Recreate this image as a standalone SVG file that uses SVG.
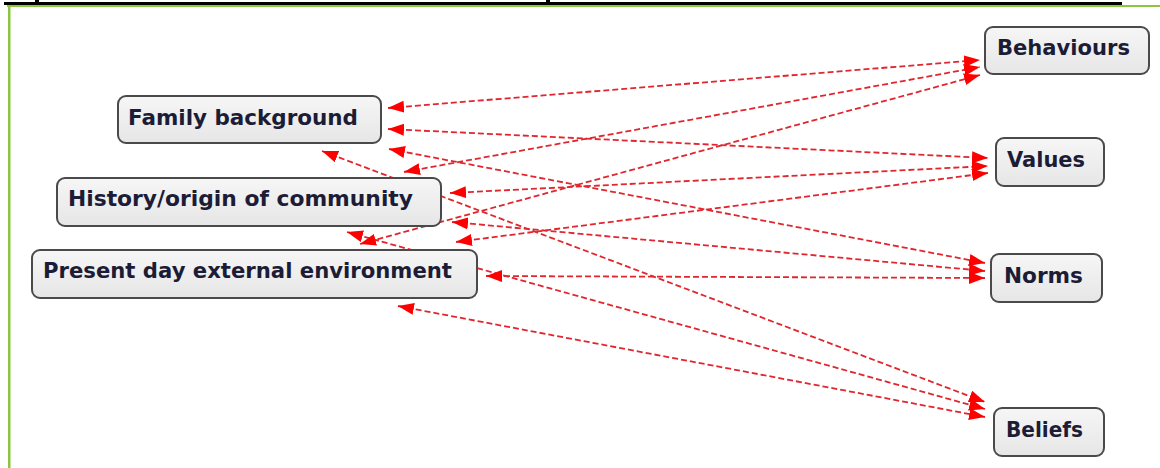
<svg xmlns="http://www.w3.org/2000/svg" width="1160" height="468" viewBox="0 0 1160 468">
<style>
.box{fill:url(#g);stroke:#4a4a4a;stroke-width:2}
.lbl{font-family:"DejaVu Sans","Verdana",sans-serif;font-weight:bold;font-size:21px;fill:#1c1c36}
.c{fill:none;stroke:#e0262e;stroke-width:1.8;stroke-dasharray:6 3;marker-start:url(#ah);marker-end:url(#ah)}
</style>
<defs>
<linearGradient id="g" x1="0" y1="0" x2="0" y2="1">
<stop offset="0" stop-color="#f6f6f6"/>
<stop offset="1" stop-color="#e6e6e6"/>
</linearGradient>
<marker id="ah" markerUnits="userSpaceOnUse" markerWidth="17" markerHeight="12" refX="16" refY="6" orient="auto-start-reverse" viewBox="0 0 17 12">
<path d="M0,0 L16,6 L0,12 z" fill="#ff0000"/>
</marker>
</defs>
<rect x="0" y="0" width="1160" height="468" fill="#ffffff"/>
<rect x="4" y="2" width="1118" height="3" fill="#000000"/>
<rect x="35" y="0" width="4" height="2" fill="#000000"/>
<rect x="546" y="0" width="4" height="2" fill="#000000"/>
<rect x="7" y="5" width="1153" height="2" fill="#8cc63f"/>
<rect x="8" y="5" width="2.5" height="463" fill="#8cc63f"/>
<g id="connectors">
<path class="c" d="M388,108 L980,60"/>
<path class="c" d="M388,129 L988,158"/>
<path class="c" d="M389,149 L985,263"/>
<path class="c" d="M322,151 L985,402"/>
<path class="c" d="M404,172 L980,67"/>
<path class="c" d="M450,193 L988,166"/>
<path class="c" d="M452,222 L985,271"/>
<path class="c" d="M347,232 L985,409"/>
<path class="c" d="M360,244 L980,75"/>
<path class="c" d="M456,242 L988,173"/>
<path class="c" d="M486,276 L985,278"/>
<path class="c" d="M398,306 L985,417"/>
</g>
<g id="family">
<rect class="box" x="118" y="96" width="263" height="47" rx="8"/>
<text class="lbl" x="128" y="125" textLength="230" lengthAdjust="spacingAndGlyphs">Family background</text>
</g>
<g id="history">
<rect class="box" x="57" y="178" width="384" height="48" rx="8"/>
<text class="lbl" x="68" y="206" textLength="345" lengthAdjust="spacingAndGlyphs">History/origin of community</text>
</g>
<g id="present">
<rect class="box" x="32" y="250" width="445" height="48" rx="8"/>
<text class="lbl" x="43" y="278" textLength="409" lengthAdjust="spacingAndGlyphs">Present day external environment</text>
</g>
<g id="behaviours">
<rect class="box" x="985" y="27" width="164" height="47" rx="8"/>
<text class="lbl" x="997" y="55" textLength="133" lengthAdjust="spacingAndGlyphs">Behaviours</text>
</g>
<g id="values">
<rect class="box" x="996" y="138" width="108" height="48" rx="8"/>
<text class="lbl" x="1007" y="167" textLength="78" lengthAdjust="spacingAndGlyphs">Values</text>
</g>
<g id="norms">
<rect class="box" x="991" y="254" width="111" height="48" rx="8"/>
<text class="lbl" x="1004" y="283" textLength="79" lengthAdjust="spacingAndGlyphs">Norms</text>
</g>
<g id="beliefs">
<rect class="box" x="994" y="408" width="110" height="48" rx="8"/>
<text class="lbl" x="1006" y="437" textLength="77" lengthAdjust="spacingAndGlyphs">Beliefs</text>
</g>
</svg>
